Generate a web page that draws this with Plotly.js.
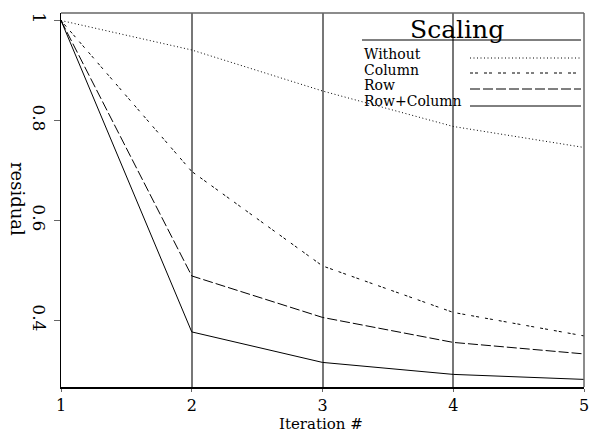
<!DOCTYPE html>
<html>
<head>
<meta charset="utf-8">
<script src="https://cdn.plot.ly/plotly-3.0.1.min.js"></script>
<style>html,body{margin:0;padding:0;background:#fff;}#chart{width:589px;height:433px;}</style>
</head>
<body>
<div id="chart"></div>
<script>
// ---- data ----
const iterations = [1, 2, 3, 4, 5];
const seriesNames = ["Without", "Column", "Row", "Row+Column"];
const without   = [1, 0.941, 0.859, 0.788, 0.746];
const column    = [1, 0.698, 0.509, 0.416, 0.369];
const row       = [1, 0.489, 0.406, 0.356, 0.333];
const rowColumn = [1, 0.377, 0.316, 0.292, 0.282];
const xTicks = [1, 2, 3, 4, 5];
const yTicks = [0.4, 0.6, 0.8, 1];
const yTickLabels = ["0.4", "0.6", "0.8", "1"];
const legendTitle = "Scaling";
const xTitle = "Iteration #";
const yTitle = "residual";

// ---- styles ----
const W = 589, H = 433;
const M = {l: 61, r: 5, t: 13, b: 46};
const PW = W - M.l - M.r, PH = H - M.t - M.b;
const px = x => (x - M.l) / PW;          // pixel -> paper x
const py = y => (H - M.b - y) / PH;      // pixel -> paper y
const serif = "DejaVu Serif";
const dashes = ["1px,2.5px", "3px,2px,3px,6px", "10px,3px", "solid"];
const allSeries = [without, column, row, rowColumn];

const traces = allSeries.map((ys, i) => ({
  x: iterations, y: ys, type: "scatter", mode: "lines", name: seriesNames[i],
  line: {color: "#000", width: 1, dash: dashes[i]}, showlegend: false, hoverinfo: "none"
}));

const shapes = [
  // top and right frame
  {type: "line", xref: "paper", yref: "paper", x0: 0, x1: 1, y0: 1, y1: 1, line: {color: "#666", width: 1.5}},
  {type: "line", xref: "paper", yref: "paper", x0: 1, x1: 1, y0: 0, y1: 1, line: {color: "#666", width: 1.5}},
  // legend title underline
  {type: "line", xref: "paper", yref: "paper", x0: px(362), x1: px(581), y0: py(40), y1: py(40), line: {color: "#000", width: 1}}
];
const annotations = [
  {text: legendTitle, xref: "paper", yref: "paper", x: px(457), y: py(30), xanchor: "center", yanchor: "middle",
   showarrow: false, font: {family: serif, size: 25, color: "#000"}},
  {text: xTitle, xref: "paper", yref: "paper", x: px(321), y: py(423.5), xanchor: "center", yanchor: "middle",
   showarrow: false, font: {family: serif, size: 15, color: "#000"}},
  {text: yTitle, xref: "paper", yref: "paper", x: px(18), y: py(199), xanchor: "center", yanchor: "middle",
   textangle: 90, showarrow: false, font: {family: serif, size: 18, color: "#000"}}
];
const legendTextY = [54, 70, 85, 101];
const legendLineY = [58, 73, 89, 106];
seriesNames.forEach((n, i) => {
  annotations.push({text: n, xref: "paper", yref: "paper", x: px(362), y: py(legendTextY[i]), xanchor: "left", yanchor: "middle",
    showarrow: false, font: {family: serif, size: 14, color: "#000"}});
  shapes.push({type: "line", xref: "paper", yref: "paper", x0: px(470), x1: px(581), y0: py(legendLineY[i]), y1: py(legendLineY[i]),
    line: {color: "#000", width: 1, dash: dashes[i]}});
});

const layout = {
  width: W, height: H, margin: M, paper_bgcolor: "#fff", plot_bgcolor: "#fff", showlegend: false,
  xaxis: {range: [1, 5], tickvals: xTicks, ticktext: xTicks.map(String), showgrid: true, gridcolor: "#777", gridwidth: 2,
    zeroline: false, showline: true, linecolor: "#000", linewidth: 1.5, ticks: "outside", ticklen: 3, tickcolor: "#666",
    ticklabeloverflow: "allow", automargin: false,
    tickfont: {family: serif, size: 16, color: "#000"}},
  yaxis: {range: [0.2668, 1.015], tickvals: yTicks, ticktext: yTickLabels, tickangle: 90, showgrid: false,
    zeroline: false, showline: true, linecolor: "#000", linewidth: 1.5, ticks: "outside", ticklen: 6, tickcolor: "#666",
    ticklabeloverflow: "allow", automargin: false,
    tickfont: {family: serif, size: 17, color: "#000"}},
  shapes: shapes, annotations: annotations
};
Plotly.newPlot("chart", traces, layout, {staticPlot: true, displayModeBar: false});
</script>
</body>
</html>
